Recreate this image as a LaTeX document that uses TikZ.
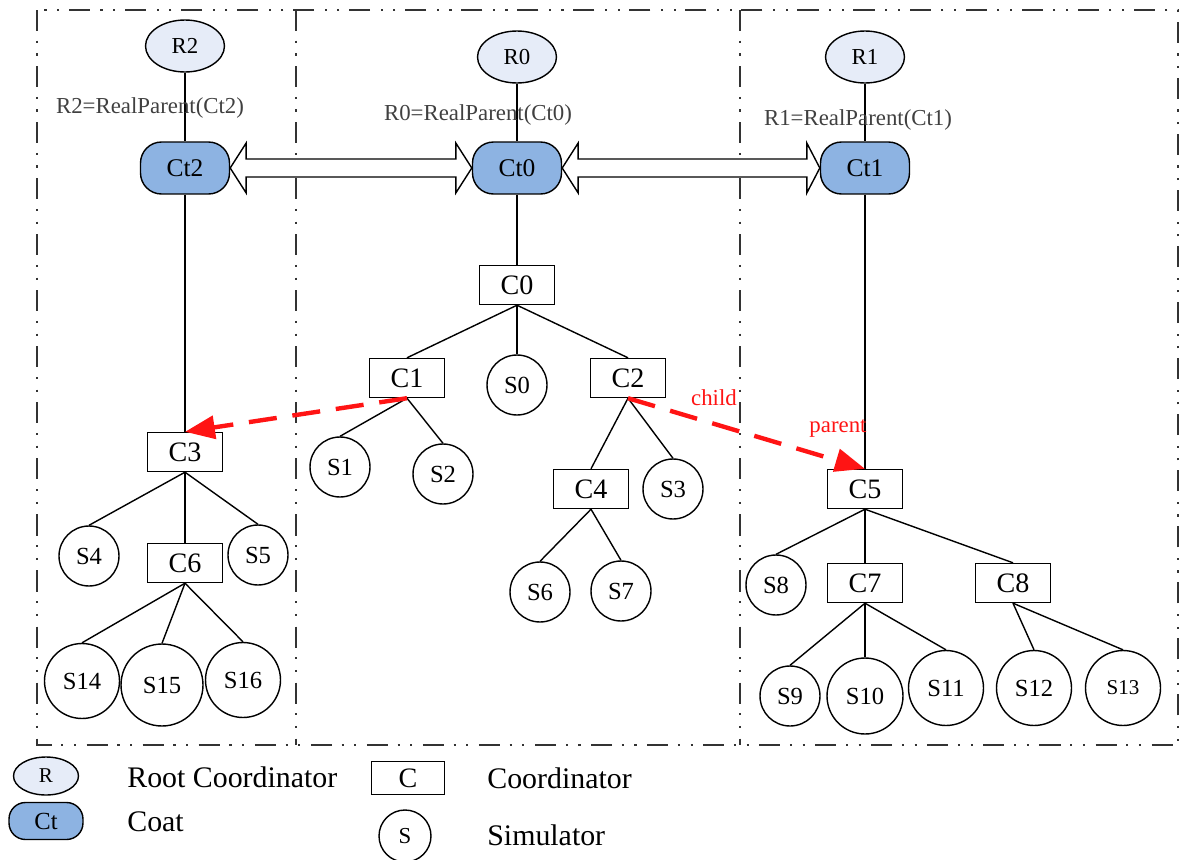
\documentclass[tikz,border=0pt]{standalone}
\usepackage{fontspec}
\setmainfont{Liberation Serif}
\usepackage{tikz}
\usetikzlibrary{shapes, arrows.meta, positioning}
\definecolor{rootblue}{RGB}{230,236,248}
\definecolor{coatblue}{RGB}{141,179,226}
\definecolor{linkred}{RGB}{255,20,20}
\tikzstyle{rnode} = [ellipse, draw, fill=rootblue, minimum width=1.58cm, minimum height=1.04cm, inner sep=0pt, line width=0.8pt, font=\fontsize{13}{15}\selectfont]
\tikzstyle{ctnode} = [rectangle, rounded corners=0.42cm, draw, fill=coatblue, minimum width=1.78cm, minimum height=1.04cm, inner sep=0pt, line width=0.8pt, font=\fontsize{14.5}{16}\selectfont]
\tikzstyle{cnode} = [rectangle, draw, fill=white, minimum width=1.5cm, minimum height=0.78cm, inner sep=0pt, line width=0.8pt, font=\fontsize{16}{18}\selectfont]
\tikzstyle{snode} = [circle, draw, fill=white, minimum size=1.2cm, inner sep=0pt, line width=0.8pt, font=\fontsize{14}{16}\selectfont]
\tikzstyle{bigsnode} = [snode, minimum size=1.5cm]
\tikzstyle{line} = [draw, line width=0.8pt]
\tikzstyle{link} = [draw=linkred, line width=2.5pt, dash pattern=on 16pt off 9pt, -{Triangle[length=17pt,width=13pt]}]
\tikzstyle{panel} = [draw=black!80, line width=1.6pt, dash pattern=on 12pt off 5.5pt on 1.2pt off 6pt on 1.2pt off 6pt]
\tikzstyle{hollow} = [draw, fill=white, line width=0.8pt, line join=miter]
\tikzstyle{parentlbl} = [text=black!75, inner sep=0pt, font=\fontsize{13}{15}\selectfont]
\tikzstyle{linklbl} = [text=linkred, inner sep=0pt, font=\fontsize{13}{15}\selectfont]
\tikzstyle{legtext} = [anchor=west, inner sep=0pt, font=\fontsize{17}{19}\selectfont]

\begin{document}
\begin{tikzpicture}[x=0.02cm, y=-0.02cm]
\useasboundingbox (0,0) rectangle (1180,859);

% panels
\path [panel] (37,10) rectangle (1178,745);
\path [panel] (296,10) -- (296,745);
\path [panel] (740,10) -- (740,745);

% roots and coats
\node [rnode] (R2) at (185,46) {R2};
\node [rnode] (R0) at (517,57) {R0};
\node [rnode] (R1) at (865,57) {R1};
\node [ctnode] (Ct2) at (185,168) {Ct2};
\node [ctnode] (Ct0) at (517,168) {Ct0};
\node [ctnode] (Ct1) at (865,168) {Ct1};

% middle tree
\node [cnode] (C0) at (517,285) {C0};
\node [cnode] (C1) at (407,378) {C1};
\node [snode] (S0) at (517,385) {S0};
\node [cnode] (C2) at (628,378) {C2};
\node [snode] (S1) at (340,467) {S1};
\node [snode] (S2) at (443,474) {S2};
\node [cnode] (C4) at (591,489) {C4};
\node [snode] (S3) at (673,489) {S3};
\node [snode] (S6) at (540,592) {S6};
\node [snode] (S7) at (621,591) {S7};

% left tree
\node [cnode] (C3) at (185,452) {C3};
\node [snode] (S4) at (89,556) {S4};
\node [cnode] (C6) at (185,563) {C6};
\node [snode] (S5) at (258,555) {S5};
\node [bigsnode] (S14) at (82,681) {S14};
\node [bigsnode, minimum size=1.64cm] (S15) at (162,685) {S15};
\node [bigsnode] (S16) at (243,680) {S16};

% right tree
\node [cnode] (C5) at (865,489) {C5};
\node [snode] (S8) at (776,585) {S8};
\node [cnode] (C7) at (865,583) {C7};
\node [cnode] (C8) at (1013,583) {C8};
\node [snode] (S9) at (790,696) {S9};
\node [bigsnode, minimum size=1.52cm] (S10) at (865,696) {S10};
\node [bigsnode] (S11) at (946,688) {S11};
\node [bigsnode] (S12) at (1034,688) {S12};
\node [bigsnode, font=\fontsize{12}{14}\selectfont] (S13) at (1123,688) {S13};

% edges
\path [line] (R2) -- (Ct2);
\path [line] (R0) -- (Ct0);
\path [line] (R1) -- (Ct1);
\path [line] (Ct2) -- (C3);
\path [line] (Ct0) -- (C0);
\path [line] (Ct1) -- (C5);
\path [line] (C0.south) -- (C1.north);
\path [line] (C0.south) -- (S0.north);
\path [line] (C0.south) -- (C2.north);
\path [line] (C1.south) -- (S1.north);
\path [line] (C1.south) -- (S2.north);
\path [line] (C2.south) -- (C4.north);
\path [line] (C2.south) -- (S3.north);
\path [line] (C4.south) -- (S6.north);
\path [line] (C4.south) -- (S7.north);
\path [line] (C3.south) -- (S4.north);
\path [line] (C3.south) -- (C6.north);
\path [line] (C3.south) -- (S5.north);
\path [line] (C6.south) -- (S14.north);
\path [line] (C6.south) -- (S15.north);
\path [line] (C6.south) -- (S16.north);
\path [line] (C5.south) -- (S8.north);
\path [line] (C5.south) -- (C7.north);
\path [line] (C5.south) -- (C8.north);
\path [line] (C7.south) -- (S9.north);
\path [line] (C7.south) -- (S10.north);
\path [line] (C7.south) -- (S11.north);
\path [line] (C8.south) -- (S12.north);
\path [line] (C8.south) -- (S13.north);

% RealParent labels
\node [parentlbl] (lblR2) at (150,108) {R2=RealParent(Ct2)};
\node [parentlbl] (lblR0) at (478,115) {R0=RealParent(Ct0)};
\node [parentlbl] (lblR1) at (858,120) {R1=RealParent(Ct1)};

% hollow double arrows between coats
\path [hollow] (Ct2.east) -- ([shift={(16,-25)}]Ct2.east) -- ([shift={(16,-9)}]Ct2.east)
  -- ([shift={(-16,-9)}]Ct0.west) -- ([shift={(-16,-25)}]Ct0.west) -- (Ct0.west)
  -- ([shift={(-16,25)}]Ct0.west) -- ([shift={(-16,9)}]Ct0.west)
  -- ([shift={(16,9)}]Ct2.east) -- ([shift={(16,25)}]Ct2.east) -- cycle;
\path [hollow] (Ct0.east) -- ([shift={(16,-25)}]Ct0.east) -- ([shift={(16,-9)}]Ct0.east)
  -- ([shift={(-13,-9)}]Ct1.west) -- ([shift={(-13,-25)}]Ct1.west) -- (Ct1.west)
  -- ([shift={(-13,25)}]Ct1.west) -- ([shift={(-13,9)}]Ct1.west)
  -- ([shift={(16,9)}]Ct0.east) -- ([shift={(16,25)}]Ct0.east) -- cycle;

% parent / child links
\path [link] (C1.south) -- (C3.north);
\path [link] (C2.south) -- (C5.north);
\node [linklbl] (lblchild) at (714,398) {child};
\node [linklbl] (lblparent) at (838,428) {parent};

% legend
\node [rnode, minimum width=1.3cm, minimum height=0.76cm, font=\fontsize{12}{14}\selectfont] (legR) at (46,776) {R};
\node [ctnode, minimum width=1.48cm, minimum height=0.74cm, rounded corners=0.33cm, font=\fontsize{14}{16}\selectfont] (legCt) at (46,821) {Ct};
\node [cnode, minimum width=1.46cm, minimum height=0.66cm] (legC) at (408,778) {C};
\node [snode, minimum size=1.04cm, font=\fontsize{13}{15}\selectfont] (legS) at (405,836) {S};
\node [legtext] (txtR) at (127,777) {Root Coordinator};
\node [legtext] (txtCt) at (127,822) {Coat};
\node [legtext] (txtC) at (487,778) {Coordinator};
\node [legtext] (txtS) at (487,835) {Simulator};
\end{tikzpicture}
\end{document}
